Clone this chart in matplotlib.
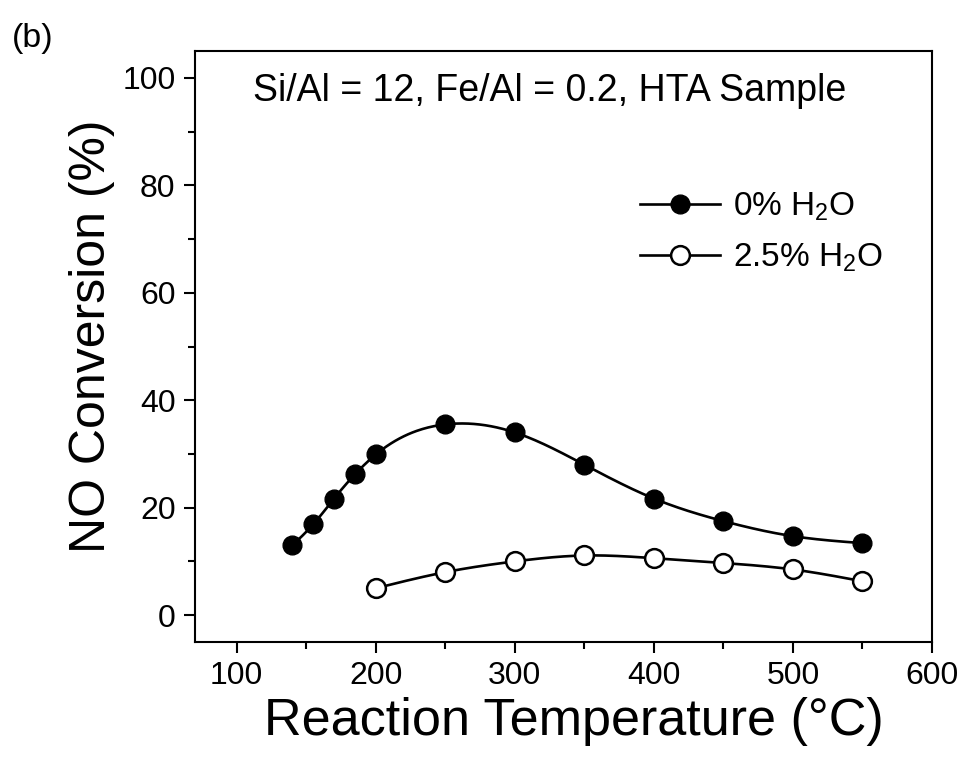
import numpy as np
import matplotlib
matplotlib.use("Agg")
import matplotlib.pyplot as plt
from matplotlib.ticker import MultipleLocator

plt.rcParams['font.family'] = ['Liberation Sans', 'DejaVu Sans']
plt.rcParams['mathtext.fontset'] = 'custom'
plt.rcParams['mathtext.rm'] = 'Liberation Sans'
plt.rcParams['mathtext.it'] = 'Liberation Sans'

# Data
temp_dry = [140, 155, 170, 185, 200, 250, 300, 350, 400, 450, 500, 550]
conv_dry = [13.0, 16.9, 21.7, 26.2, 29.9, 35.5, 34.0, 28.0, 21.7, 17.5, 14.7, 13.4]
temp_wet = [200, 250, 300, 350, 400, 450, 500, 550]
conv_wet = [5.0, 8.0, 10.0, 11.1, 10.6, 9.7, 8.5, 6.3]
labels = ['0% H$_2$O', '2.5% H$_2$O']
note = 'Si/Al = 12, Fe/Al = 0.2, HTA Sample'


def natural_spline(x, y, n=400):
    x = np.asarray(x, float)
    y = np.asarray(y, float)
    m = len(x)
    h = np.diff(x)
    A = np.zeros((m, m))
    r = np.zeros(m)
    A[0, 0] = A[-1, -1] = 1
    for i in range(1, m - 1):
        A[i, i - 1] = h[i - 1]
        A[i, i] = 2 * (h[i - 1] + h[i])
        A[i, i + 1] = h[i]
        r[i] = 6 * ((y[i + 1] - y[i]) / h[i] - (y[i] - y[i - 1]) / h[i - 1])
    M = np.linalg.solve(A, r)
    xs = np.linspace(x[0], x[-1], n)
    ys = np.empty_like(xs)
    for k, xv in enumerate(xs):
        i = min(np.searchsorted(x, xv, side='right') - 1, m - 2)
        t1 = x[i + 1] - xv
        t0 = xv - x[i]
        ys[k] = (M[i] * t1 ** 3 + M[i + 1] * t0 ** 3) / (6 * h[i]) \
            + (y[i] / h[i] - M[i] * h[i] / 6) * t1 \
            + (y[i + 1] / h[i] - M[i + 1] * h[i] / 6) * t0
    return xs, ys


fig = plt.figure(figsize=(9.64, 7.65), dpi=100)
ax = fig.add_axes([0.2023, 0.1608, 0.7645, 0.7725])

lw = 1.9
ms = 13.5
xs, ys = natural_spline(temp_dry, conv_dry)
ax.plot(xs, ys, color='black', lw=lw, zorder=2)
ax.plot(temp_dry, conv_dry, 'o', color='black', ms=ms, zorder=3)
xs, ys = natural_spline(temp_wet, conv_wet)
ax.plot(xs, ys, color='black', lw=lw, zorder=2)
ax.plot(temp_wet, conv_wet, 'o', mfc='white', mec='black', mew=1.8, ms=ms, zorder=3)

# legend handles
h1, = ax.plot([], [], '-o', color='black', lw=lw, ms=ms)
h2, = ax.plot([], [], '-o', color='black', lw=lw, ms=ms, mfc='white', mec='black', mew=1.8)
ax.legend([h1, h2], labels, loc='center left', bbox_to_anchor=(0.604, 0.693),
          frameon=False, fontsize=24, handlelength=2.4, handletextpad=0.4,
          labelspacing=0.55, borderpad=0, borderaxespad=0)

ax.set_xlim(70, 600)
ax.set_ylim(-5, 105)
ax.xaxis.set_major_locator(MultipleLocator(100))
ax.xaxis.set_minor_locator(MultipleLocator(50))
ax.yaxis.set_major_locator(MultipleLocator(20))
ax.yaxis.set_minor_locator(MultipleLocator(10))
ax.tick_params(which='major', direction='out', length=8, width=1.5, labelsize=23, pad=6)
ax.tick_params(which='minor', direction='out', length=5, width=1.5)
ax.tick_params(top=False, right=False, which='both')
for s in ax.spines.values():
    s.set_linewidth(1.5)

ax.set_xlabel('Reaction Temperature (°C)', fontsize=37.5, labelpad=4)
ax.xaxis.label.set_x(0.514)
ax.set_ylabel('NO Conversion (%)', fontsize=36, labelpad=5)
ax.yaxis.label.set_y(0.518)
ax.text(0.481, 0.932, note, transform=ax.transAxes, ha='center', va='center', fontsize=27)
fig.text(0.012, 0.950, '(b)', fontsize=24.5, ha='left', va='center')

fig.savefig('out.png', dpi=100)
